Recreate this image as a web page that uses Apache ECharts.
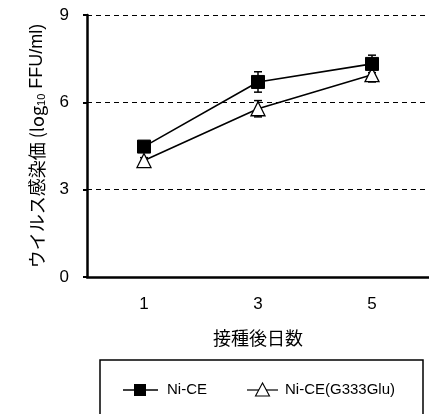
<!DOCTYPE html>
<html><head><meta charset="utf-8">
<script src="https://cdn.jsdelivr.net/npm/echarts@6/dist/echarts.min.js"></script>
<style>html,body{margin:0;padding:0;background:#fff}#c{width:429px;height:414px}</style>
</head><body><div id="c"></div>
<script>
const days = ['1', '3', '5'];
const yTicks = [0, 3, 6, 9];
const niCE = [4.48, 6.7, 7.32];
const niCEErr = [0.12, 0.35, 0.3];
const g333 = [4.0, 5.78, 6.95];
const g333Err = [0.1, 0.28, 0.25];
const seriesNames = ['Ni-CE', 'Ni-CE(G333Glu)'];

const FONT = '"Liberation Sans", Arial, Helvetica, sans-serif';
const JFONT = '"Noto Sans CJK JP", sans-serif';

function errSeries(vals, errs) {
  return {
    type: 'custom',
    z: 1,
    silent: true,
    data: vals.map((v, i) => [i, v - errs[i], v + errs[i]]),
    renderItem: function (params, api) {
      const x = api.coord([api.value(0), 0])[0];
      const lo = api.coord([api.value(0), api.value(1)])[1];
      const hi = api.coord([api.value(0), api.value(2)])[1];
      const w = 4;
      const st = { stroke: '#000', lineWidth: 1.5 };
      return { type: 'group', children: [
        { type: 'line', shape: { x1: x, y1: lo, x2: x, y2: hi }, style: st },
        { type: 'line', shape: { x1: x - w, y1: lo, x2: x + w, y2: lo }, style: st },
        { type: 'line', shape: { x1: x - w, y1: hi, x2: x + w, y2: hi }, style: st }
      ]};
    }
  };
}

const chart = echarts.init(document.getElementById('c'), null, { renderer: 'canvas' });
chart.setOption({
  animation: false,
  backgroundColor: '#fff',
  grid: { left: 87, right: -1, top: 15, bottom: 137, containLabel: false },
  xAxis: {
    type: 'category',
    data: days,
    boundaryGap: true,
    axisLine: { lineStyle: { color: '#000', width: 2.5 } },
    axisTick: { inside: true, length: 4, lineStyle: { color: '#000', width: 2 } },
    axisLabel: { color: '#000', fontFamily: FONT, fontSize: 17, margin: 19 },
    name: '接種後日数',
    nameLocation: 'middle',
    nameGap: 52,
    nameTextStyle: { color: '#000', fontFamily: JFONT, fontSize: 18 }
  },
  yAxis: {
    type: 'value',
    min: 0, max: 9, interval: 3,
    axisLine: { show: true, lineStyle: { color: '#000', width: 2.5 } },
    axisTick: { show: true, length: 4, lineStyle: { color: '#000', width: 2 } },
    axisLabel: { color: '#000', fontFamily: FONT, fontSize: 17, margin: 18,
      formatter: v => yTicks.includes(v) ? String(v) : '' },
    splitLine: { show: true, lineStyle: { color: '#000', width: 1.2, type: [5, 4] } },
    name: '{a|ウイルス感染価 (log}{s|10}{b| FFU/ml)}',
    nameLocation: 'middle',
    nameRotate: 90,
    nameGap: 40,
    nameTextStyle: {
      color: '#000',
      rich: {
        a: { fontFamily: JFONT, fontSize: 18, color: '#000' },
        s: { fontFamily: FONT, fontSize: 11, color: '#000', verticalAlign: 'bottom', padding: [9, 0, 0, 0] },
        b: { fontFamily: FONT, fontSize: 18, color: '#000' }
      }
    }
  },
  legend: { show: false },
  series: [
    errSeries(niCE, niCEErr),
    errSeries(g333, g333Err),
    {
      name: seriesNames[0], type: 'line', data: niCE, z: 3,
      symbol: 'rect', symbolSize: 13,
      lineStyle: { color: '#000', width: 1.6 },
      itemStyle: { color: '#000', borderColor: '#000', borderWidth: 1 }
    },
    {
      name: seriesNames[1], type: 'line', data: g333, z: 2,
      symbol: 'triangle', symbolSize: [14, 14],
      lineStyle: { color: '#000', width: 1.6 },
      itemStyle: { color: '#fff', borderColor: '#000', borderWidth: 1.3 }
    }
  ],
  graphic: [
    { type: 'rect', shape: { x: 100, y: 360, width: 323, height: 80 },
      style: { fill: 'none', stroke: '#000', lineWidth: 1.5 } },
    { type: 'line', shape: { x1: 123, y1: 390, x2: 158, y2: 390 }, style: { stroke: '#000', lineWidth: 1.5 } },
    { type: 'rect', shape: { x: 134, y: 384, width: 12, height: 12 }, style: { fill: '#000' } },
    { type: 'text', style: { x: 167, y: 390, text: seriesNames[0], font: '15px ' + FONT, fill: '#000', textVerticalAlign: 'middle' } },
    { type: 'line', shape: { x1: 247, y1: 390, x2: 278, y2: 390 }, style: { stroke: '#000', lineWidth: 1.2 } },
    { type: 'polygon', shape: { points: [[262.5, 383], [255.5, 396], [269.5, 396]] }, style: { fill: '#fff', stroke: '#000', lineWidth: 1.1 } },
    { type: 'text', style: { x: 285, y: 390, text: seriesNames[1], font: '15px ' + FONT, fill: '#000', textVerticalAlign: 'middle' } }
  ]
});
</script></body></html>
